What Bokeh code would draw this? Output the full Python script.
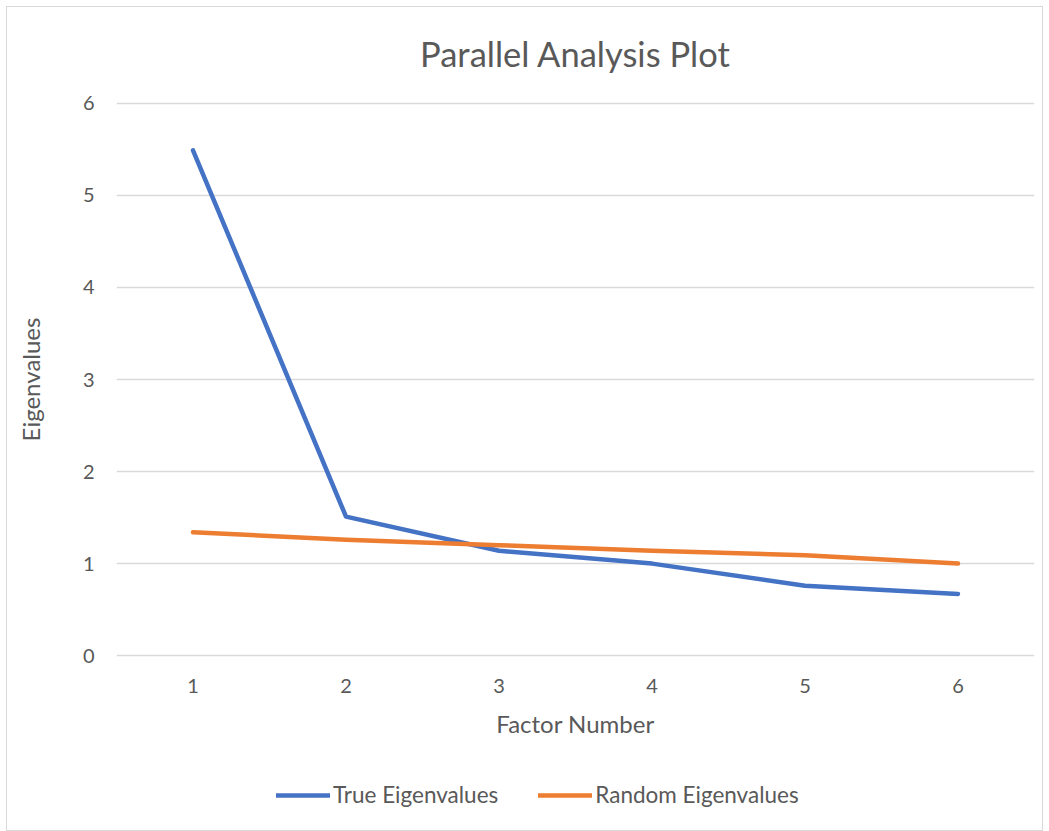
from bokeh.plotting import figure
from bokeh.models import Range1d, FixedTicker, Legend, LegendItem, Title
from bokeh.layouts import column
from bokeh.embed import file_html
from bokeh.resources import INLINE

factors = [1, 2, 3, 4, 5, 6]
true_eigen = [5.49, 1.51, 1.14, 1.00, 0.76, 0.67]
random_eigen = [1.34, 1.26, 1.20, 1.14, 1.09, 1.00]
y_ticks = [0, 1, 2, 3, 4, 5, 6]
series_names = ["True Eigenvalues", "Random Eigenvalues"]
series_colors = ["#4472C4", "#ED7D31"]

FONT = "Lato"
GREY = "#595959"

p = figure(frame_width=918, frame_height=556,
           x_range=Range1d(0.5, 6.5), y_range=Range1d(-0.02, 6.02),
           output_backend="svg", toolbar_location=None,
           min_border_left=109, min_border_right=8, min_border_top=10, min_border_bottom=90,
           background_fill_color="white", border_fill_color="white")
p.outline_line_color = None
p.title = None

t = Title(text="Parallel Analysis Plot", align="center", vertical_align="top", text_font=FONT,
          text_font_size="34.5px", text_font_style="normal", text_color=GREY,
          standoff=51)
p.add_layout(t, "above")

p.line(factors, true_eigen, line_color=series_colors[0], line_width=4.5, line_cap="round", line_join="round")
p.line(factors, random_eigen, line_color=series_colors[1], line_width=4.5, line_cap="round", line_join="round")

p.xgrid.grid_line_color = None
p.ygrid.grid_line_color = "#D9D9D9"
p.ygrid.grid_line_width = 1.3
p.yaxis.ticker = FixedTicker(ticks=y_ticks)
p.xaxis.ticker = FixedTicker(ticks=factors)

for ax in (p.xaxis[0], p.yaxis[0]):
    ax.axis_line_color = None
    ax.major_tick_line_color = None
    ax.minor_tick_line_color = None
    ax.major_label_text_font = FONT
    ax.major_label_text_font_size = "20px"
    ax.major_label_text_color = GREY
    ax.axis_label_text_font = FONT
    ax.axis_label_text_font_size = "24px"
    ax.axis_label_text_font_style = "normal"
    ax.axis_label_text_color = GREY

p.xaxis.axis_label = "Factor Number"
p.yaxis.axis_label = "Eigenvalues"
p.xaxis.major_label_standoff = 15
p.yaxis.major_label_standoff = 16
p.xaxis.axis_label_standoff = 13
p.yaxis.axis_label_standoff = 35

# legend strip below the chart
lg = figure(width=1035, height=83, x_range=Range1d(0, 1), y_range=Range1d(0, 1),
            output_backend="svg", toolbar_location=None,
            min_border_left=0, min_border_right=0, min_border_top=0, min_border_bottom=0,
            background_fill_color="white", border_fill_color="white")
lg.outline_line_color = None
lg.axis.visible = False
lg.grid.visible = False
r1 = lg.line([5, 6], [5, 6], line_color=series_colors[0], line_width=4.5, line_cap="round")
r2 = lg.line([5, 6], [5, 6], line_color=series_colors[1], line_width=4.5, line_cap="round")

legend = Legend(items=[LegendItem(label=series_names[0], renderers=[r1]),
                       LegendItem(label=series_names[1], renderers=[r2])],
                orientation="horizontal", location=(160, 22),
                label_text_font=FONT, label_text_font_size="22.5px", label_text_color=GREY,
                glyph_width=54, glyph_height=20, spacing=40, label_standoff=3,
                border_line_color=None, background_fill_alpha=0, margin=0, padding=0)
lg.add_layout(legend, "center")

layout = column(p, lg, spacing=0)
layout.margin = (6, 0, 0, 6)
layout.styles = {"border": "1px solid #D9D9D9"}

open("out.html", "w").write(file_html(layout, INLINE))
